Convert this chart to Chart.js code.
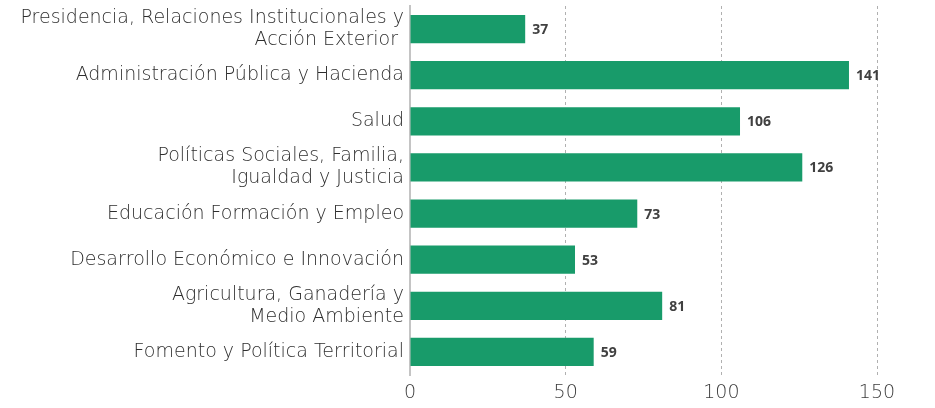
<!DOCTYPE html>
<html lang="es">
<head>
<meta charset="UTF-8"/>
<title>Consejerías</title>
<script src="https://cdn.jsdelivr.net/npm/chart.js@4"></script>
<style>
  * { margin: 0; padding: 0; box-sizing: border-box; }
  body { background: #fff; width: 935px; height: 408px; overflow: hidden; }
  .wrap { position: relative; width: 935px; height: 408px; }
</style>
</head>
<body>
<div class="wrap"><canvas id="chart"></canvas></div>
<script>
// categories (multi-line labels as arrays)
const categories = [
  ['Presidencia, Relaciones Institucionales y', 'Acción Exterior '],
  'Administración Pública y Hacienda',
  'Salud',
  ['Políticas Sociales, Familia,', 'Igualdad y Justicia'],
  'Educación Formación y Empleo',
  'Desarrollo Económico e Innovación',
  ['Agricultura, Ganadería y', 'Medio Ambiente'],
  'Fomento y Política Territorial'
];
const values = [37, 141, 106, 126, 73, 53, 81, 59];
const xTicks = [0, 50, 100, 150];

const GREEN = '#189b6a';
const TEXT  = '#2e2e2e';
const FONT  = '"DejaVu Sans", sans-serif';

// draws the value next to each bar
const valueLabels = {
  id: 'valueLabels',
  afterDatasetsDraw(chart) {
    const ctx = chart.ctx;
    const meta = chart.getDatasetMeta(0);
    ctx.save();
    ctx.font = 'bold 14px "Open Sans"';
    ctx.fillStyle = '#404040';
    ctx.textAlign = 'left';
    ctx.textBaseline = 'middle';
    meta.data.forEach((bar, i) => {
      ctx.fillText(String(values[i]), bar.x + 7, bar.y + 1);
    });
    ctx.restore();
  }
};

new Chart(document.getElementById('chart'), {
  type: 'bar',
  data: {
    labels: categories,
    datasets: [{
      data: values,
      backgroundColor: GREEN,
      borderWidth: 0,
      barPercentage: 0.61,
      categoryPercentage: 1
    }]
  },
  options: {
    indexAxis: 'y',
    responsive: true,
    maintainAspectRatio: false,
    animation: false,
    layout: { padding: { top: 6, right: 58, bottom: 0, left: 0 } },
    plugins: {
      legend: { display: false },
      tooltip: { enabled: false }
    },
    scales: {
      x: {
        min: 0,
        max: 150,
        afterBuildTicks: scale => { scale.ticks = xTicks.map(v => ({ value: v })); },
        afterFit: scale => { scale.height = 33; scale.paddingLeft = 0; scale.paddingRight = 0; },
        grid: {
          drawTicks: false,
          color: ctx => ctx.tick && ctx.tick.value === 0 ? 'rgba(0,0,0,0)' : '#b0b0b0',
          lineWidth: 1
        },
        border: { display: false, dash: [3, 3] },
        ticks: {
          padding: 7,
          color: '#3c3c3c',
          font: { family: FONT, size: 19, weight: '200' }
        }
      },
      y: {
        afterFit: scale => { scale.width = 410; scale.paddingTop = 0; scale.paddingBottom = 0; },
        grid: { display: false, drawTicks: false },
        border: { display: true, color: '#c4c4c4', width: 2 },
        ticks: {
          autoSkip: false,
          padding: 6,
          color: TEXT,
          font: { family: FONT, size: 19, weight: '200', lineHeight: 1.16 }
        }
      }
    }
  },
  plugins: [valueLabels]
});
</script>
</body>
</html>
